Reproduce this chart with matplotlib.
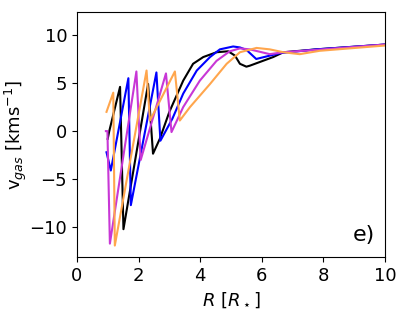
import matplotlib
matplotlib.use("Agg")
import matplotlib.pyplot as plt

# radius [R_star] and gas velocity [km/s] for the four snapshots
r_black = [1.0, 1.05, 1.40, 1.51, 2.31, 2.47, 2.69, 3.0, 3.45, 3.77, 4.10, 4.53, 4.91,
           5.13, 5.29, 5.5, 5.61, 6.37, 6.7, 7.77, 10.0]
v_black = [-0.8, 0.0, 4.6, -10.2, 4.9, -2.35, -0.8, 2.0, 5.25, 7.0, 7.7, 8.2, 8.3,
           7.85, 7.0, 6.7, 6.8, 7.7, 8.2, 8.5, 9.0]

r_blue = [0.96, 1.10, 1.67, 1.75, 2.58, 2.71, 3.1, 3.45, 3.89, 4.32, 4.64, 5.07, 5.29,
          5.5, 5.82, 6.58, 7.77, 10.0]
v_blue = [-2.2, -4.1, 5.5, -7.7, 6.1, -1.0, 1.3, 3.9, 6.3, 7.7, 8.5, 8.8, 8.7,
          8.45, 7.5, 8.1, 8.5, 9.0]

r_mag = [0.94, 0.99, 1.07, 1.93, 2.07, 2.89, 3.07, 3.45, 3.99, 4.53, 4.96, 5.29,
         5.61, 6.26, 6.7, 7.77, 10.0]
v_mag = [0.0, 0.0, -11.7, 6.2, -3.0, 6.0, -0.1, 2.5, 5.25, 7.3, 8.3, 8.6,
         8.5, 8.0, 8.2, 8.45, 9.0]

r_orange = [0.96, 1.18, 1.23, 2.26, 2.37, 3.18, 3.34, 3.67, 4.32, 4.86, 5.29, 5.83,
            6.26, 6.7, 7.23, 7.88, 10.0]
v_orange = [2.0, 4.0, -11.9, 6.3, 1.1, 6.2, 1.1, 2.5, 4.9, 7.0, 8.2, 8.65,
            8.5, 8.2, 8.0, 8.35, 8.9]

fig = plt.figure(figsize=(4.07, 3.12), dpi=100)
ax = fig.add_axes([0.189, 0.176, 0.757, 0.786])

ax.plot(r_black, v_black, color="black", lw=1.5)
ax.plot(r_blue, v_blue, color="blue", lw=1.5)
ax.plot(r_mag, v_mag, color="#c837d6", lw=1.5)
ax.plot(r_orange, v_orange, color="#ffa64d", lw=1.5)

ax.set_xlim(0, 10)
ax.set_ylim(-13.1, 12.4)
ax.set_xticks([0, 2, 4, 6, 8, 10])
ax.set_yticks([-10, -5, 0, 5, 10])
ax.tick_params(labelsize=13)
ax.set_xlabel(r"$R$ [$R_\star$]", fontsize=13)
ax.set_ylabel(r"v$_{gas}$ [kms$^{-1}$]", fontsize=13)
ax.yaxis.set_label_coords(-0.155, 0.5)
ax.text(9.3, -10.8, "e)", fontsize=16, ha="center", va="center")

fig.savefig("out.png", dpi=100)
